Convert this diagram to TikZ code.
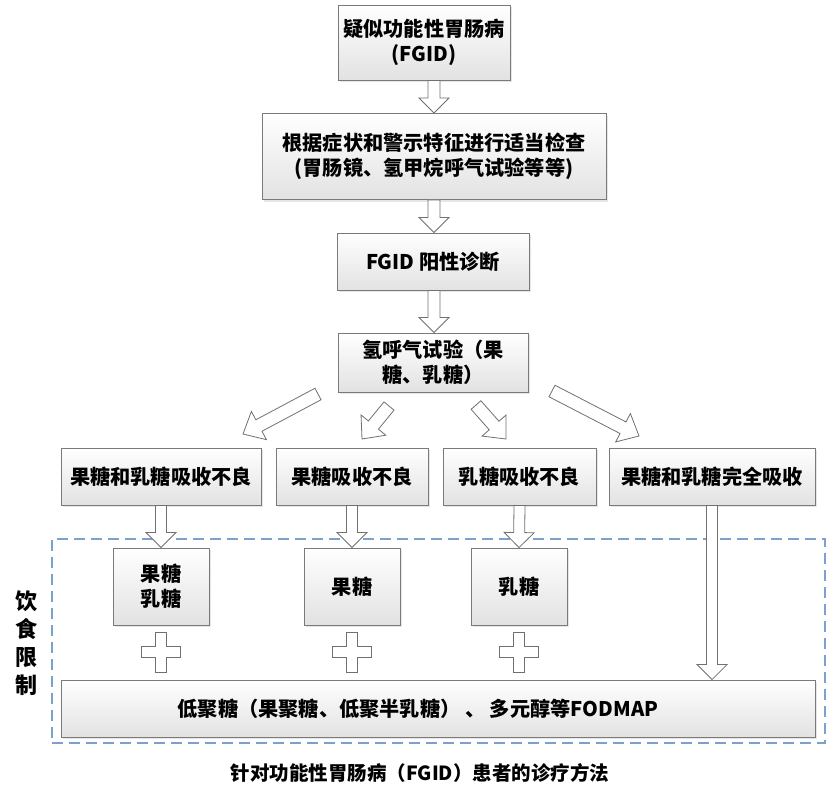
\documentclass[tikz,border=0pt]{standalone}
\usepackage{fontspec}
\setmainfont{Noto Sans CJK SC}
\usetikzlibrary{calc,shadows}
\definecolor{boxline}{HTML}{7A7A7A}
\definecolor{boxbot}{HTML}{E2E2E2}
\definecolor{arrline}{HTML}{707070}
\definecolor{dashc}{HTML}{7EA0CC}
\tikzset{
  box/.style={draw=boxline, line width=0.9pt, top color=white, bottom color=boxbot,
    drop shadow={shadow xshift=2pt, shadow yshift=-2pt, opacity=0.2},
    font=\bfseries\fontsize{20.2}{25}\selectfont, align=center, inner sep=0pt},
  barr/.style={draw=arrline, fill=white, line width=0.8pt, line join=miter},
  dashbox/.style={draw=dashc, line width=1.3pt, dash pattern=on 11pt off 6pt},
  lbl/.style={font=\bfseries\fontsize{19.5}{25}\selectfont, align=center, inner sep=0pt},
}
% #1 half shaft, #2 half head, #3 head length, #4 tail, #5 tip
\newcommand\blockarrow[5]{%
  \draw[barr] let \p1=(#4), \p2=(#5), \n1={atan2(\y2-\y1,\x2-\x1)},
    \n2={veclen(\x2-\x1,\y2-\y1)-#3pt} in
    ($(\p1)+(\n1+90:#1pt)$) -- ($(\p1)+(\n1:\n2)+(\n1+90:#1pt)$)
    -- ($(\p1)+(\n1:\n2)+(\n1+90:#2pt)$) -- (\p2)
    -- ($(\p1)+(\n1:\n2)+(\n1-90:#2pt)$) -- ($(\p1)+(\n1:\n2)+(\n1-90:#1pt)$)
    -- ($(\p1)+(\n1-90:#1pt)$) -- cycle;}
\newcommand\plusat[1]{%
  \draw[barr, shift={(#1)}] (-5.5,20) -- (5.5,20) -- (5.5,5.5) -- (19.5,5.5) -- (19.5,-5.5)
    -- (5.5,-5.5) -- (5.5,-20) -- (-5.5,-20) -- (-5.5,-5.5) -- (-19.5,-5.5) -- (-19.5,5.5)
    -- (-5.5,5.5) -- cycle;}
\begin{document}
\begin{tikzpicture}[x=1pt,y=1pt]
\useasboundingbox (0,0) rectangle (829,-787);
% dashed group
\node[dashbox, minimum width=773, minimum height=204, inner sep=0pt] (grp) at (438.5,-641) {};
% main boxes
\node[box, minimum width=172, minimum height=75] (b1) at (424,-42.5) {疑似功能性胃肠病\\(FGID)};
\node[box, minimum width=344, minimum height=86] (b2) at (434,-156.5) {根据症状和警示特征进行适当检查\\(胃肠镜、氢甲烷呼气试验等等)};
\node[box, minimum width=192, minimum height=57] (b3) at (433,-261.5) {FGID 阳性诊断};
\node[box, minimum width=190, minimum height=59] (b4) at (433,-362.5) {氢呼气试验（果\\糖、乳糖）};
\node[box, minimum width=200, minimum height=57] (r1) at (161,-476.5) {果糖和乳糖吸收不良};
\node[box, minimum width=152, minimum height=57] (r2) at (352,-476.5) {果糖吸收不良};
\node[box, minimum width=153, minimum height=57] (r3) at (519.5,-476.5) {乳糖吸收不良};
\node[box, minimum width=206, minimum height=57] (r4) at (712,-476.5) {果糖和乳糖完全吸收};
\node[box, minimum width=96, minimum height=77] (s1) at (161,-586.5) {果糖\\乳糖};
\node[box, minimum width=96, minimum height=77] (s2) at (352,-586.5) {果糖};
\node[box, minimum width=96, minimum height=77] (s3) at (519,-586.5) {乳糖};
\node[box, minimum width=754, minimum height=57] (bot) at (438,-708.5) {低聚糖（果聚糖、低聚半乳糖）~、~多元醇等FODMAP\hspace*{40pt}};
% side and caption
\node[lbl, font=\bfseries\fontsize{22}{28}\selectfont] (side) at (27,-643) {饮\\食\\限\\制};
\node[lbl] (cap) at (420,-773) {针对功能性胃肠病（FGID）患者的诊疗方法};
% vertical arrows
\blockarrow{6}{15}{15}{b2.north |- b1.south}{b2.north}
\blockarrow{6}{15}{15}{b2.south}{b2.south |- b3.north}
\blockarrow{6}{15}{15}{b2.south |- b3.south}{b2.south |- b4.north}
\blockarrow{5.5}{15}{15}{r1.south}{s1.north}
\blockarrow{5.5}{15}{15}{r2.south}{s2.north}
\blockarrow{5.5}{15}{15}{r3.south}{s3.north}
\blockarrow{5.5}{15}{15}{r4.south}{r4.south |- bot.north}
% diagonal arrows
\coordinate (d1s) at (318,-394);  \coordinate (d1e) at (243,-434);
\coordinate (d2s) at (389,-406);  \coordinate (d2e) at (362,-439);
\coordinate (d3s) at (476,-405);  \coordinate (d3e) at (506,-439);
\coordinate (d4s) at (552,-391);  \coordinate (d4e) at (639,-436);
\blockarrow{6.5}{16}{18}{d1s}{d1e}
\blockarrow{6.5}{16}{18}{d2s}{d2e}
\blockarrow{6.5}{16}{18}{d3s}{d3e}
\blockarrow{6.5}{16}{18}{d4s}{d4e}
% plus signs
\coordinate (p1) at (161,-652);
\coordinate (p2) at (352,-652);
\coordinate (p3) at (519,-652);
\plusat{p1}
\plusat{p2}
\plusat{p3}
\end{tikzpicture}
\end{document}
